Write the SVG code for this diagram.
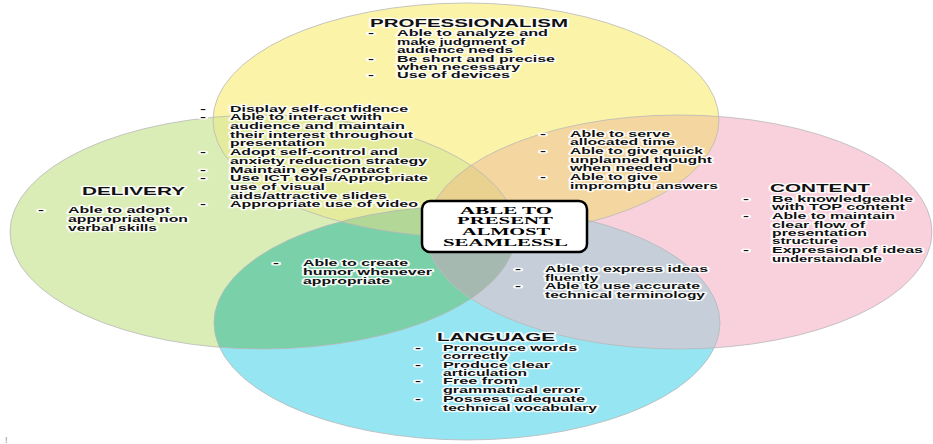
<svg xmlns="http://www.w3.org/2000/svg" width="933" height="444" viewBox="0 0 933 444">
<style>
.o{fill:none;stroke:#b8b8b8;stroke-width:1;stroke-opacity:.8}
.t{font-family:"Liberation Sans",Arial,sans-serif;font-weight:bold;font-size:9px;fill:#111;stroke:#fff;stroke-width:2.6px;stroke-linejoin:round;paint-order:stroke;stroke-opacity:.9}
.h{font-size:11px}
.b{font-family:"Liberation Serif","Times New Roman",serif;font-weight:bold;font-size:10.5px;fill:#000}
</style>
<defs>
<ellipse id="eY" cx="466" cy="120" rx="253" ry="117"/>
<ellipse id="eG" cx="263" cy="232" rx="253" ry="117"/>
<ellipse id="eP" cx="679" cy="232" rx="253" ry="117"/>
<ellipse id="eB" cx="467" cy="323" rx="253" ry="117"/>
<clipPath id="kY"><ellipse cx="466" cy="120" rx="253" ry="117"/></clipPath>
<clipPath id="kG"><ellipse cx="263" cy="232" rx="253" ry="117"/></clipPath>
<clipPath id="kP"><ellipse cx="679" cy="232" rx="253" ry="117"/></clipPath>
</defs>
<rect width="933" height="444" fill="#fff"/>
<g id="circles">
<use id="c-delivery" href="#eG" fill="#dbedb6"/>
<use id="c-content" href="#eP" fill="#f9d1dd"/>
<use id="c-professionalism" href="#eY" fill="#fbf4a8"/>
<use id="c-language" href="#eB" fill="#96e5f2"/>
<g clip-path="url(#kY)"><use href="#eG" fill="#e4eb9d"/><use href="#eP" fill="#f4d6a1"/><use href="#eB" fill="#c0dca0"/></g>
<g clip-path="url(#kG)"><use href="#eB" fill="#7ad1a9"/><use href="#eP" fill="#e0d6b0"/></g>
<g clip-path="url(#kP)"><use href="#eB" fill="#c6cfd9"/></g>
<g clip-path="url(#kY)"><g clip-path="url(#kG)"><use href="#eP" fill="#e9d18f"/><use href="#eB" fill="#b3d796"/></g></g>
<g clip-path="url(#kG)"><g clip-path="url(#kP)"><use href="#eB" fill="#a6b9b0"/></g></g>
<g clip-path="url(#kY)"><g clip-path="url(#kP)"><use href="#eB" fill="#c9c9b0"/></g></g>
<use href="#eG" class="o"/>
<use href="#eP" class="o"/>
<use href="#eY" class="o"/>
<use href="#eB" class="o"/>
</g>
<g id="node-professionalism">
<text class="t h" x="370" y="26.7" textLength="198" lengthAdjust="spacingAndGlyphs">PROFESSIONALISM</text>
<text class="t" x="368" y="36.3" textLength="6" lengthAdjust="spacingAndGlyphs">-</text>
<text class="t" x="397" y="36.3" textLength="151" lengthAdjust="spacingAndGlyphs">Able to analyze and</text>
<text class="t" x="397" y="44.7" textLength="128" lengthAdjust="spacingAndGlyphs">make judgment of</text>
<text class="t" x="397" y="53.1" textLength="116" lengthAdjust="spacingAndGlyphs">audience needs</text>
<text class="t" x="368" y="61.5" textLength="6" lengthAdjust="spacingAndGlyphs">-</text>
<text class="t" x="397" y="61.5" textLength="158" lengthAdjust="spacingAndGlyphs">Be short and precise</text>
<text class="t" x="397" y="69.9" textLength="123" lengthAdjust="spacingAndGlyphs">when necessary</text>
<text class="t" x="368" y="78.3" textLength="6" lengthAdjust="spacingAndGlyphs">-</text>
<text class="t" x="397" y="78.3" textLength="113" lengthAdjust="spacingAndGlyphs">Use of devices</text>
</g>
<g id="overlap-professionalism-delivery">
<text class="t" x="200" y="111.6" textLength="6" lengthAdjust="spacingAndGlyphs">-</text>
<text class="t" x="230" y="111.6" textLength="178" lengthAdjust="spacingAndGlyphs">Display self-confidence</text>
<text class="t" x="200" y="120.3" textLength="6" lengthAdjust="spacingAndGlyphs">-</text>
<text class="t" x="230" y="120.3" textLength="152" lengthAdjust="spacingAndGlyphs">Able to interact with</text>
<text class="t" x="230" y="129" textLength="175" lengthAdjust="spacingAndGlyphs">audience and maintain</text>
<text class="t" x="230" y="137.7" textLength="183" lengthAdjust="spacingAndGlyphs">their interest throughout</text>
<text class="t" x="230" y="146.4" textLength="95" lengthAdjust="spacingAndGlyphs">presentation</text>
<text class="t" x="200" y="155.1" textLength="6" lengthAdjust="spacingAndGlyphs">-</text>
<text class="t" x="230" y="155.1" textLength="168" lengthAdjust="spacingAndGlyphs">Adopt self-control and</text>
<text class="t" x="230" y="163.8" textLength="197" lengthAdjust="spacingAndGlyphs">anxiety reduction strategy</text>
<text class="t" x="200" y="172.5" textLength="6" lengthAdjust="spacingAndGlyphs">-</text>
<text class="t" x="230" y="172.5" textLength="160" lengthAdjust="spacingAndGlyphs">Maintain eye contact</text>
<text class="t" x="200" y="181.2" textLength="6" lengthAdjust="spacingAndGlyphs">-</text>
<text class="t" x="230" y="181.2" textLength="198" lengthAdjust="spacingAndGlyphs">Use ICT tools/Appropriate</text>
<text class="t" x="230" y="189.9" textLength="95" lengthAdjust="spacingAndGlyphs">use of visual</text>
<text class="t" x="230" y="198.6" textLength="157" lengthAdjust="spacingAndGlyphs">aids/attractive slides</text>
<text class="t" x="200" y="207.3" textLength="6" lengthAdjust="spacingAndGlyphs">-</text>
<text class="t" x="230" y="207.3" textLength="188" lengthAdjust="spacingAndGlyphs">Appropriate use of video</text>
</g>
<g id="node-delivery">
<text class="t h" x="82" y="195" textLength="103" lengthAdjust="spacingAndGlyphs">DELIVERY</text>
<text class="t" x="38" y="213.4" textLength="6" lengthAdjust="spacingAndGlyphs">-</text>
<text class="t" x="68" y="213.4" textLength="102" lengthAdjust="spacingAndGlyphs">Able to adopt</text>
<text class="t" x="68" y="222.1" textLength="120" lengthAdjust="spacingAndGlyphs">appropriate non</text>
<text class="t" x="68" y="230.8" textLength="89" lengthAdjust="spacingAndGlyphs">verbal skills</text>
</g>
<g id="overlap-professionalism-content">
<text class="t" x="540" y="136.6" textLength="6" lengthAdjust="spacingAndGlyphs">-</text>
<text class="t" x="570" y="136.6" textLength="100" lengthAdjust="spacingAndGlyphs">Able to serve</text>
<text class="t" x="570" y="145.3" textLength="105" lengthAdjust="spacingAndGlyphs">allocated time</text>
<text class="t" x="540" y="154" textLength="6" lengthAdjust="spacingAndGlyphs">-</text>
<text class="t" x="570" y="154" textLength="133" lengthAdjust="spacingAndGlyphs">Able to give quick</text>
<text class="t" x="570" y="162.6" textLength="142" lengthAdjust="spacingAndGlyphs">unplanned thought</text>
<text class="t" x="570" y="171" textLength="102" lengthAdjust="spacingAndGlyphs">when needed</text>
<text class="t" x="540" y="180" textLength="6" lengthAdjust="spacingAndGlyphs">-</text>
<text class="t" x="570" y="180" textLength="88" lengthAdjust="spacingAndGlyphs">Able to give</text>
<text class="t" x="570" y="188.6" textLength="148" lengthAdjust="spacingAndGlyphs">impromptu answers</text>
</g>
<g id="node-content">
<text class="t h" x="770" y="192.3" textLength="100" lengthAdjust="spacingAndGlyphs">CONTENT</text>
<text class="t" x="743" y="201.6" textLength="6" lengthAdjust="spacingAndGlyphs">-</text>
<text class="t" x="772" y="201.6" textLength="141" lengthAdjust="spacingAndGlyphs">Be knowledgeable</text>
<text class="t" x="772" y="210.3" textLength="133" lengthAdjust="spacingAndGlyphs">with TOP content</text>
<text class="t" x="743" y="219" textLength="6" lengthAdjust="spacingAndGlyphs">-</text>
<text class="t" x="772" y="219" textLength="123" lengthAdjust="spacingAndGlyphs">Able to maintain</text>
<text class="t" x="772" y="227.6" textLength="93" lengthAdjust="spacingAndGlyphs">clear flow of</text>
<text class="t" x="772" y="236" textLength="95" lengthAdjust="spacingAndGlyphs">presentation</text>
<text class="t" x="772" y="244.3" textLength="66" lengthAdjust="spacingAndGlyphs">structure</text>
<text class="t" x="743" y="253.3" textLength="6" lengthAdjust="spacingAndGlyphs">-</text>
<text class="t" x="772" y="253.3" textLength="151" lengthAdjust="spacingAndGlyphs">Expression of ideas</text>
<text class="t" x="772" y="261.6" textLength="110" lengthAdjust="spacingAndGlyphs">understandable</text>
</g>
<g id="overlap-delivery-language">
<text class="t" x="273" y="266" textLength="6" lengthAdjust="spacingAndGlyphs">-</text>
<text class="t" x="303" y="266" textLength="105" lengthAdjust="spacingAndGlyphs">Able to create</text>
<text class="t" x="303" y="275" textLength="129" lengthAdjust="spacingAndGlyphs">humor whenever</text>
<text class="t" x="303" y="284" textLength="87" lengthAdjust="spacingAndGlyphs">appropriate</text>
</g>
<g id="overlap-content-language">
<text class="t" x="515" y="272.3" textLength="6" lengthAdjust="spacingAndGlyphs">-</text>
<text class="t" x="545" y="272.3" textLength="163" lengthAdjust="spacingAndGlyphs">Able to express ideas</text>
<text class="t" x="545" y="280.6" textLength="53" lengthAdjust="spacingAndGlyphs">fluently</text>
<text class="t" x="515" y="289.3" textLength="6" lengthAdjust="spacingAndGlyphs">-</text>
<text class="t" x="545" y="289.3" textLength="155" lengthAdjust="spacingAndGlyphs">Able to use accurate</text>
<text class="t" x="545" y="297.6" textLength="160" lengthAdjust="spacingAndGlyphs">technical terminology</text>
</g>
<g id="node-language">
<text class="t h" x="437" y="341.3" textLength="118" lengthAdjust="spacingAndGlyphs">LANGUAGE</text>
<text class="t" x="415" y="351" textLength="6" lengthAdjust="spacingAndGlyphs">-</text>
<text class="t" x="443" y="351" textLength="134" lengthAdjust="spacingAndGlyphs">Pronounce words</text>
<text class="t" x="443" y="359.3" textLength="65" lengthAdjust="spacingAndGlyphs">correctly</text>
<text class="t" x="415" y="367.6" textLength="6" lengthAdjust="spacingAndGlyphs">-</text>
<text class="t" x="443" y="367.6" textLength="107" lengthAdjust="spacingAndGlyphs">Produce clear</text>
<text class="t" x="443" y="376" textLength="84" lengthAdjust="spacingAndGlyphs">articulation</text>
<text class="t" x="415" y="384.3" textLength="6" lengthAdjust="spacingAndGlyphs">-</text>
<text class="t" x="443" y="384.3" textLength="75" lengthAdjust="spacingAndGlyphs">Free from</text>
<text class="t" x="443" y="393.3" textLength="137" lengthAdjust="spacingAndGlyphs">grammatical error</text>
<text class="t" x="415" y="402" textLength="6" lengthAdjust="spacingAndGlyphs">-</text>
<text class="t" x="443" y="402" textLength="142" lengthAdjust="spacingAndGlyphs">Possess adequate</text>
<text class="t" x="443" y="410.6" textLength="154" lengthAdjust="spacingAndGlyphs">technical vocabulary</text>
</g>
<g id="node-center">
<rect x="422" y="201" width="165" height="51" rx="8" fill="#fff" stroke="#000" stroke-width="2.5"/>
<text class="b" x="460" y="213.9" textLength="92" lengthAdjust="spacingAndGlyphs">ABLE TO</text>
<text class="b" x="457" y="223.9" textLength="96" lengthAdjust="spacingAndGlyphs">PRESENT</text>
<text class="b" x="462" y="234.5" textLength="88" lengthAdjust="spacingAndGlyphs">ALMOST</text>
<text class="b" x="443" y="245.5" textLength="125" lengthAdjust="spacingAndGlyphs">SEAMLESSL</text>
</g>
<text x="5" y="443" font-family="Liberation Sans, Arial, sans-serif" font-size="9" fill="#888">!</text>
</svg>
